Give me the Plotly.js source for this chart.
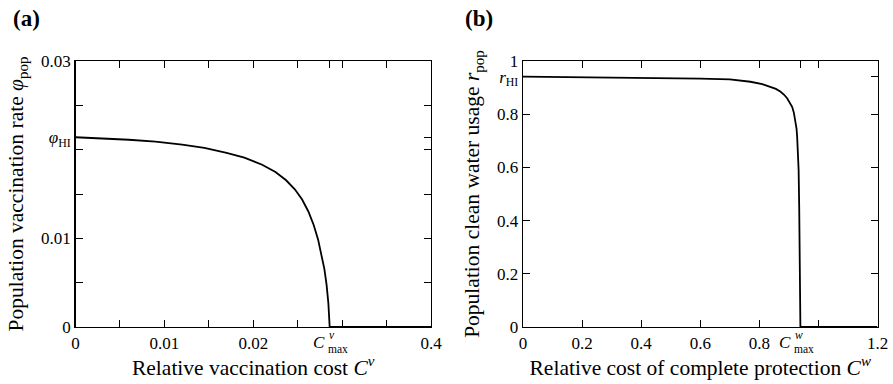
<!DOCTYPE html>
<html>
<head>
<meta charset="utf-8">
<script src="https://cdn.plot.ly/plotly-3.0.1.min.js"></script>
<style>html,body{margin:0;padding:0;background:#fff}#chart{width:893px;height:384px}</style>
</head>
<body>
<div id="chart"></div>
<script>
// Panel (a): population vaccination rate vs relative vaccination cost
const costV = [0, 0.003, 0.006, 0.009, 0.012, 0.0145, 0.017, 0.019, 0.021, 0.0225, 0.0237, 0.0247, 0.0255, 0.0262, 0.0268, 0.0273, 0.0277, 0.028, 0.02825, 0.02845, 0.0286, 0.04];
const rateV = [0.0214, 0.02128, 0.02112, 0.0209, 0.02058, 0.0202, 0.01965, 0.0191, 0.0183, 0.01748, 0.01655, 0.0155, 0.01437, 0.01303, 0.0115, 0.00985, 0.00815, 0.00655, 0.00478, 0.0027, 0, 0];
const cmaxV = 0.0286;
const phiHI = 0.0214;
const xTickValsA = [0, 0.005, 0.01, 0.015, 0.02, 0.025, 0.03, 0.035, 0.04, cmaxV];
const xTickTextA = ["0", "", "0.01", "", "0.02", "", "", "", "0.4", ""];
const yTickValsA = [0, 0.005, 0.01, 0.015, 0.02, phiHI, 0.025, 0.03];
const yTickTextA = ["0", "", "0.01", "", "", "<i>φ</i><sub>HI</sub>", "", "0.03"];

// Panel (b): population clean water usage vs relative cost of complete protection
const costW = [0, 0.2, 0.4, 0.6, 0.7, 0.77, 0.81, 0.837, 0.856, 0.871, 0.884, 0.894, 0.903, 0.911, 0.917, 0.922, 0.926, 0.928, 0.931, 0.933, 0.935, 0.937, 0.938, 0.939, 1.2];
const usageW = [0.941, 0.939, 0.937, 0.934, 0.931, 0.922, 0.913, 0.903, 0.895, 0.885, 0.873, 0.860, 0.845, 0.828, 0.805, 0.778, 0.745, 0.715, 0.665, 0.59, 0.45, 0.3, 0.15, 0, 0];
const cmaxW = 0.939;
const rHI = 0.941;
const xTickValsB = [0, 0.2, 0.4, 0.6, 0.8, 1.0, 1.2, cmaxW];
const xTickTextB = ["0", "0.2", "0.4", "0.6", "0.8", "", "1.2", ""];
const yTickValsB = [0, 0.2, 0.4, 0.6, 0.8, rHI, 1];
const yTickTextB = ["0", "0.2", "0.4", "0.6", "0.8", "<i>r</i><sub>HI</sub>", "1"];

const FONT = "Liberation Serif, Times New Roman, serif";
const TICK = 17, TITLE = 21.5, SCRIPT = 11.5;

function axisBase() {
  return {
    showline: true, linecolor: "#000", linewidth: 1.3, mirror: "ticks",
    ticks: "inside", ticklen: 7, tickwidth: 1, tickcolor: "#000",
    showgrid: false, zeroline: false, tickmode: "array",
    tickfont: {family: FONT, size: TICK, color: "#000"},
    fixedrange: true
  };
}

const traces = [
  {x: costV, y: rateV, xaxis: "x", yaxis: "y", mode: "lines", line: {color: "#000", width: 1.8}, hoverinfo: "skip"},
  {x: costW, y: usageW, xaxis: "x2", yaxis: "y2", mode: "lines", line: {color: "#000", width: 1.8}, hoverinfo: "skip"}
];

const yLo = 57 / 384, yHi = 323 / 384;
const layout = {
  width: 893, height: 384,
  margin: {l: 0, r: 0, t: 0, b: 0},
  paper_bgcolor: "#fff", plot_bgcolor: "#fff",
  showlegend: false,
  font: {family: FONT, color: "#000"},
  xaxis: Object.assign(axisBase(), {
    domain: [75.5 / 893, 431 / 893], range: [0, 0.04],
    tickvals: xTickValsA, ticktext: xTickTextA, anchor: "y",
    title: {text: "Relative vaccination cost <i>C<sup>v</sup></i>", font: {family: FONT, size: TITLE}, standoff: 5}
  }),
  yaxis: Object.assign(axisBase(), {
    domain: [yLo, yHi], range: [0, 0.03],
    tickvals: yTickValsA, ticktext: yTickTextA, anchor: "x",
    title: {text: "Population vaccination rate <i>φ</i><sub>pop</sub>", font: {family: FONT, size: TITLE}, standoff: 11}
  }),
  xaxis2: Object.assign(axisBase(), {
    domain: [523 / 893, 877.5 / 893], range: [0, 1.2],
    tickvals: xTickValsB, ticktext: xTickTextB, anchor: "y2",
    title: {text: "Relative cost of complete protection <i>C<sup>w</sup></i>", font: {family: FONT, size: TITLE}, standoff: 5}
  }),
  yaxis2: Object.assign(axisBase(), {
    domain: [yLo, yHi], range: [0, 1],
    tickvals: yTickValsB, ticktext: yTickTextB, anchor: "x2",
    title: {text: "Population clean water usage <i>r</i><sub>pop</sub>", font: {family: FONT, size: TITLE}, standoff: 11}
  }),
  annotations: [
    {text: "<b>(a)</b>", xref: "paper", yref: "paper", x: 11 / 893, y: 1 - 18 / 384, xanchor: "left", yanchor: "middle", showarrow: false, font: {family: FONT, size: 23}},
    {text: "<b>(b)</b>", xref: "paper", yref: "paper", x: 463 / 893, y: 1 - 18 / 384, xanchor: "left", yanchor: "middle", showarrow: false, font: {family: FONT, size: 23}},
    // C^v_max tick label
    {text: "<i>C</i>", xref: "x", yref: "paper", x: cmaxV, xshift: -11, y: 1 - 342.5 / 384, xanchor: "center", yanchor: "middle", showarrow: false, borderpad: 0, font: {family: FONT, size: TICK}},
    {text: "<i>v</i>", xref: "x", yref: "paper", x: cmaxV, xshift: -2, y: 1 - 342 / 384, xanchor: "left", yanchor: "bottom", showarrow: false, borderpad: 0, font: {family: FONT, size: SCRIPT}},
    {text: "max", xref: "x", yref: "paper", x: cmaxV, xshift: -3, y: 1 - 342 / 384, xanchor: "left", yanchor: "top", showarrow: false, borderpad: 0, font: {family: FONT, size: SCRIPT}},
    // C^w_max tick label
    {text: "<i>C</i>", xref: "x2", yref: "paper", x: cmaxW, xshift: -15, y: 1 - 342.5 / 384, xanchor: "center", yanchor: "middle", showarrow: false, borderpad: 0, font: {family: FONT, size: TICK}},
    {text: "<i>w</i>", xref: "x2", yref: "paper", x: cmaxW, xshift: -6, y: 1 - 342 / 384, xanchor: "left", yanchor: "bottom", showarrow: false, borderpad: 0, font: {family: FONT, size: SCRIPT}},
    {text: "max", xref: "x2", yref: "paper", x: cmaxW, xshift: -7, y: 1 - 342 / 384, xanchor: "left", yanchor: "top", showarrow: false, borderpad: 0, font: {family: FONT, size: SCRIPT}}
  ]
};

Plotly.newPlot("chart", traces, layout, {staticPlot: true, displayModeBar: false});
</script>
</body>
</html>
